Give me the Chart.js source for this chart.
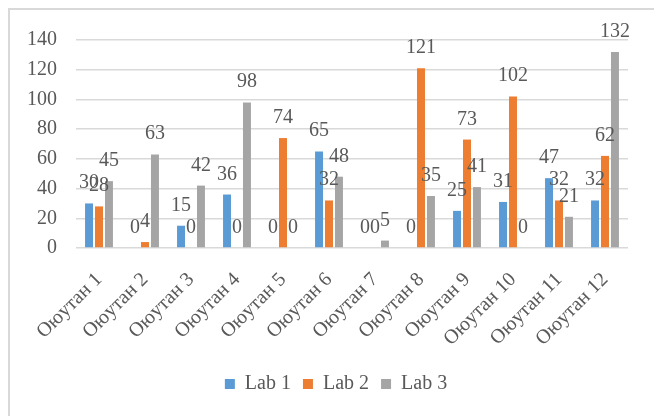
<!DOCTYPE html>
<html>
<head>
<meta charset="utf-8">
<script src="https://cdn.jsdelivr.net/npm/chart.js@4/dist/chart.umd.min.js"></script>
<style>
  html, body { margin: 0; padding: 0; background: #fff; }
  #wrap { position: relative; width: 654px; height: 416px; overflow: hidden; }
  #frame { position: absolute; left: 8px; top: 8px; width: 700px; height: 500px;
           border-top: 2px solid #D9D9D9; border-left: 2px solid #D9D9D9; }
  canvas { position: absolute; left: 0; top: 0; }
</style>
</head>
<body>
<div id="wrap">
  <div id="frame"></div>
  <canvas id="c" width="654" height="416"></canvas>
</div>
<script>
const categories = ["Оюутан 1","Оюутан 2","Оюутан 3","Оюутан 4","Оюутан 5","Оюутан 6","Оюутан 7","Оюутан 8","Оюутан 9","Оюутан 10","Оюутан 11","Оюутан 12"];
const lab1 = [30, 0, 15, 36, 0, 65, 0, 0, 25, 31, 47, 32];
const lab2 = [28, 4, 0, 0, 74, 32, 0, 121, 73, 102, 32, 62];
const lab3 = [45, 63, 42, 98, 0, 48, 5, 35, 41, 0, 21, 132];
const yTicks = [0, 20, 40, 60, 80, 100, 120, 140];

const FONT = "'Liberation Serif', 'Times New Roman', serif";
const TEXT = "#595959";

const dataLabels = {
  id: 'dataLabels',
  afterDatasetsDraw(chart) {
    const ctx = chart.ctx;
    ctx.save();
    ctx.font = "20px " + FONT;
    ctx.fillStyle = TEXT;
    ctx.textAlign = 'center';
    ctx.textBaseline = 'alphabetic';
    chart.data.datasets.forEach((ds, i) => {
      const meta = chart.getDatasetMeta(i);
      meta.data.forEach((bar, j) => {
        ctx.fillText(String(ds.data[j]), bar.x, bar.y - 15);
      });
    });
    ctx.restore();
  }
};

const legendShift = {
  id: 'legendShift',
  afterLayout(chart) {
    if (chart.legend) {
      chart.legend.left += 22;
      chart.legend.right += 22;
      if (chart.legend.legendHitBoxes) {
        chart.legend.legendHitBoxes.forEach(b => { b.left += 22; });
      }
    }
  }
};

new Chart(document.getElementById('c'), {
  type: 'bar',
  data: {
    labels: categories,
    datasets: [
      { label: 'Lab 1', data: lab1, backgroundColor: '#5B9BD5' },
      { label: 'Lab 2', data: lab2, backgroundColor: '#ED7D31' },
      { label: 'Lab 3', data: lab3, backgroundColor: '#A5A5A5' }
    ]
  },
  options: {
    responsive: false,
    animation: false,
    layout: { padding: { left: 0, right: 26, top: 40, bottom: 12 } },
    datasets: { bar: { categoryPercentage: 0.65, barPercentage: 0.8 } },
    plugins: {
      tooltip: { enabled: false },
      legend: {
        position: 'bottom',
        labels: {
          font: { family: FONT, size: 20 },
          color: TEXT,
          boxWidth: 10,
          boxHeight: 10,
          padding: 12
        }
      }
    },
    scales: {
      x: {
        grid: { display: false },
        border: { display: false },
        ticks: {
          font: { family: FONT, size: 20 },
          color: TEXT,
          minRotation: 45,
          maxRotation: 45,
          padding: 12
        },
        afterFit(scale) { scale.height = 114; }
      },
      y: {
        min: 0,
        max: 140,
        afterBuildTicks(scale) { scale.ticks = yTicks.map(v => ({ value: v })); },
        grid: { color: '#D9D9D9', lineWidth: 1.5, drawTicks: false },
        border: { display: false },
        ticks: {
          font: { family: FONT, size: 20 },
          color: TEXT,
          padding: 19
        },
        afterFit(scale) { scale.width = 76; }
      }
    }
  },
  plugins: [dataLabels, legendShift]
});
</script>
</body>
</html>
